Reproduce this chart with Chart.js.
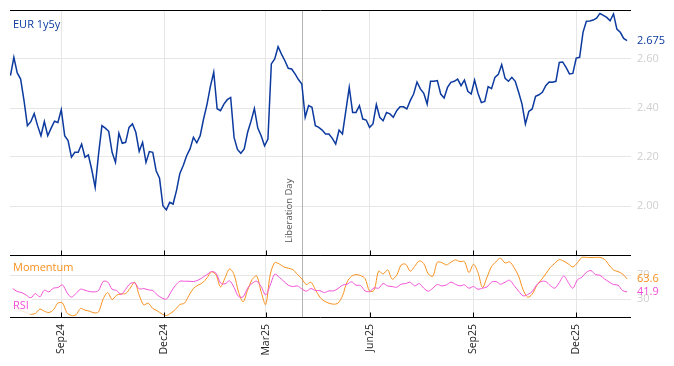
<!DOCTYPE html>
<html><head><meta charset="utf-8">
<script src="https://cdn.jsdelivr.net/npm/chart.js@4.4.1/dist/chart.umd.min.js"></script>
<style>
html,body{margin:0;padding:0;background:#fff;}
#wrap{position:relative;width:674px;height:366px;overflow:hidden;}
#wrap canvas{position:absolute;left:0;top:0;}
</style></head><body>
<div id="wrap"><canvas id="cTop" width="674" height="366"></canvas><canvas id="cBot" width="674" height="366"></canvas></div>
<script>
// ---------------- data ----------------
const eurStart = '2024-07-18';
const eurStepDays = 3;
const eur1y5y = [
2.532,2.607,2.543,2.518,2.430,2.328,2.344,2.377,2.328,2.287,
2.345,2.287,2.318,2.346,2.341,2.393,2.287,2.267,2.199,2.219,
2.219,2.253,2.199,2.208,2.148,2.076,2.212,2.328,2.318,2.305,
2.219,2.178,2.297,2.256,2.260,2.321,2.335,2.301,2.223,2.260,
2.178,2.222,2.219,2.144,2.113,2.001,1.984,2.015,2.008,2.063,
2.133,2.165,2.205,2.233,2.280,2.258,2.287,2.355,2.414,2.487,
2.546,2.397,2.389,2.416,2.434,2.443,2.280,2.231,2.215,2.233,
2.301,2.346,2.398,2.318,2.287,2.246,2.273,2.580,2.600,2.650,
2.620,2.593,2.562,2.559,2.539,2.516,2.498,2.362,2.410,2.403,
2.328,2.321,2.310,2.294,2.294,2.276,2.253,2.310,2.294,2.389,
2.484,2.382,2.382,2.410,2.355,2.351,2.321,2.335,2.414,2.362,
2.348,2.382,2.376,2.362,2.389,2.405,2.405,2.396,2.430,2.457,
2.506,2.478,2.460,2.416,2.509,2.509,2.512,2.457,2.441,2.484,
2.505,2.509,2.518,2.491,2.514,2.468,2.457,2.514,2.460,2.422,
2.427,2.487,2.479,2.525,2.537,2.577,2.521,2.509,2.525,2.509,
2.464,2.416,2.335,2.386,2.396,2.448,2.454,2.464,2.491,2.506,
2.505,2.509,2.586,2.588,2.566,2.539,2.541,2.604,2.607,2.709,
2.754,2.755,2.759,2.767,2.786,2.778,2.770,2.756,2.784,2.722,
2.709,2.684,2.675
];
const indStart = '2024-07-20';
const indStepDays = 4;
const momentum = [
20.3,13.6,10.3,7.5,4.7,5.8,13.1,9.7,7.5,11.9,
23.1,23.6,6.9,2.5,3.6,14.2,11.4,9.7,6.9,8.6,
29.7,40.8,29.2,36.4,38.6,39.2,48.1,58.1,36.4,20.3,
23.1,14.2,10.3,5.3,2.5,6.4,12.5,20.8,23.1,35.8,
47.5,53.1,56.9,65.3,75.3,70.3,50.3,65.3,80.3,70.8,
41.4,25.3,44.7,62.5,68.6,41.9,20.8,70.3,90.8,88.6,
83.6,81.4,79.2,71.4,63.6,54.2,58.1,45.8,33.0,
26.4,23.1,21.4,23.1,35.3,58.1,68.1,70.8,69.2,64.2,
43.1,44.7,76.4,71.9,78.6,63.1,69.7,86.9,88.1,76.4,
84.7,93.6,89.2,71.9,68.1,91.4,90.8,86.9,91.4,95.3,
92.5,92.5,74.2,88.1,74.2,49.2,66.4,84.2,92.5,98.1,
90.3,91.9,82.5,68.1,45.3,33.1,38.1,52.5,61.9,71.9,
82.5,89.7,95.8,93.1,88.6,83.6,90.3,99.5,99.5,99.2,
99.5,99.5,96.4,86.9,78.6,75.8,71.9,63.6
];
const rsi = [
47.5,42.5,40.8,36.4,31.9,39.2,33.6,44.7,41.9,48.1,
49.2,53.6,40.8,33.1,39.2,46.4,44.7,42.5,41.9,44.2,
59.2,58.6,46.4,44.2,37.5,46.4,55.8,56.9,46.9,47.5,
45.3,44.2,36.9,31.9,29.7,41.4,52.5,59.7,59.7,59.7,
59.2,61.4,65.8,70.8,75.8,73.1,56.9,55.3,60.3,49.2,
34.2,33.6,48.1,56.4,59.7,50.8,36.9,53.1,71.4,66.4,
59.7,53.1,50.8,51.9,46.9,43.1,47.5,44.2,44.0,
40.8,43.6,43.6,47.5,53.1,54.7,58.6,53.1,52.5,43.6,
42.5,48.6,48.1,55.8,51.9,50.8,49.7,54.7,55.8,58.1,
51.9,55.8,48.1,43.1,48.1,54.2,51.9,53.6,58.1,54.7,
51.9,53.6,48.1,50.8,46.4,48.1,50.3,58.1,59.2,54.7,
58.1,61.4,52.5,43.1,35.3,37.5,42.5,53.6,59.2,59.2,
52.5,48.1,57.5,68.6,57.5,48.1,61.9,66.4,74.7,77.5,
70.8,69.7,63.6,58.6,54.2,53.1,44.2,41.9
];
const tickDates = ['2024-09-01','2024-12-01','2025-03-01','2025-06-01','2025-09-01','2025-12-01'];
const tickLabels = ['Sep24','Dec24','Mar25','Jun25','Sep25','Dec25'];
const yTicksTop = [2.0, 2.2, 2.4, 2.6];
const yTicksBottom = [30, 70];
const eventDate = '2025-04-02';
const eventLabel = 'Liberation Day';
const xRange = ['2024-07-17T14:00:00Z', '2026-01-18T12:00:00Z'];

// ---------------- helpers ----------------
const DAY = 86400000;
const px = d => Date.parse(d.length > 10 ? d : d + 'T00:00:00Z');
const series = (start, step, vals) => vals.map((v, i) => ({x: px(start) + i * step * DAY, y: v}));
const BLUE = '#0c3a9f', ORANGE = '#f8901c', MAGENTA = '#f24fd6';
const GRID = '#e6e6e6', TICKGRAY = '#cfcfcf';
const FONT = "'Open Sans', sans-serif";
Chart.defaults.font.family = FONT;

const noPad = s => { s.paddingTop = 0; s.paddingBottom = 0; s.paddingLeft = 0; s.paddingRight = 0; };

function xScaleBase(extra) {
  return Object.assign({
    type: 'linear', min: px(xRange[0]), max: px(xRange[1]),
    afterBuildTicks: s => { s.ticks = tickDates.map(d => ({value: px(d)})); },
    grid: {color: GRID, drawTicks: false},
    border: {display: false}
  }, extra);
}

function frameAndTicks(chart) {
  const {ctx, chartArea: ca, scales: {x}} = chart;
  ctx.save();
  ctx.strokeStyle = '#000'; ctx.lineWidth = 1;
  ctx.beginPath();
  const t = Math.round(ca.top) + 0.5, b = Math.round(ca.bottom) + 0.5;
  ctx.moveTo(ca.left, t); ctx.lineTo(ca.right, t);
  ctx.moveTo(ca.left, b); ctx.lineTo(ca.right, b);
  ctx.stroke();
  ctx.beginPath();
  tickDates.forEach(d => {
    const tx = Math.round(x.getPixelForValue(px(d))) + 0.5;
    ctx.moveTo(tx, b - 5); ctx.lineTo(tx, b);
  });
  ctx.stroke();
  ctx.restore();
}
function eventLine(chart) {
  const {ctx, chartArea: ca, scales: {x}} = chart;
  const lx = Math.round(x.getPixelForValue(px(eventDate))) + 0.5;
  ctx.save(); ctx.strokeStyle = '#b4b4b4'; ctx.lineWidth = 1;
  ctx.beginPath(); ctx.moveTo(lx, ca.top); ctx.lineTo(lx, ca.bottom); ctx.stroke();
  ctx.restore();
  return lx;
}
function label(ctx, text, x, y, color, size, bg) {
  ctx.save();
  ctx.font = size + 'px ' + FONT;
  ctx.textBaseline = 'middle'; ctx.textAlign = 'left';
  if (bg) { ctx.fillStyle = 'rgba(255,255,255,0.8)'; const w = ctx.measureText(text).width; ctx.fillRect(x - 3, y - 8, w + 6, 16); }
  ctx.fillStyle = color; ctx.fillText(text, x, y);
  ctx.restore();
}

// ---------------- top panel ----------------
const eurData = series(eurStart, eurStepDays, eur1y5y);
new Chart(document.getElementById('cTop'), {
  type: 'line',
  data: {datasets: [{data: eurData, borderColor: BLUE, borderWidth: 1.5, pointRadius: 0, tension: 0, fill: false}]},
  options: {
    responsive: false, animation: false, events: [],
    layout: {padding: {left: 10, top: 10, right: 0, bottom: 111}},
    plugins: {legend: {display: false}, tooltip: {enabled: false}},
    scales: {
      x: xScaleBase({ticks: {display: false}, afterFit: s => { s.height = 0; noPad(s); }}),
      y: {
        position: 'right', min: 1.8, max: 2.8,
        afterBuildTicks: s => { s.ticks = yTicksTop.map(v => ({value: v})); },
        ticks: {color: TICKGRAY, font: {size: 11}, padding: 6, callback: v => v.toFixed(2)},
        grid: {color: GRID, drawTicks: false}, border: {display: false},
        afterFit: s => { s.width = 43; noPad(s); }
      }
    }
  },
  plugins: [{
    id: 'topDecor',
    beforeDatasetsDraw(chart) {
      const lx = eventLine(chart);
      const {ctx, chartArea: ca} = chart;
      ctx.save();
      ctx.translate(lx - 13, ca.bottom - 12);
      ctx.rotate(-Math.PI / 2);
      ctx.font = '9.5px ' + FONT; ctx.fillStyle = '#555'; ctx.textAlign = 'left'; ctx.textBaseline = 'middle';
      ctx.fillText(eventLabel, 0, 0);
      ctx.restore();
    },
    afterDatasetsDraw(chart) {
      frameAndTicks(chart);
      const {ctx, chartArea: ca, scales: {y}} = chart;
      label(ctx, 'EUR 1y5y', 13, 25, BLUE, 11, false);
      const last = eur1y5y[eur1y5y.length - 1];
      label(ctx, last.toFixed(3), ca.right + 6, y.getPixelForValue(last), BLUE, 11, false);
    }
  }]
});

// ---------------- bottom panel ----------------
new Chart(document.getElementById('cBot'), {
  type: 'line',
  data: {datasets: [
    {data: series(indStart, indStepDays, rsi), borderColor: MAGENTA, borderWidth: 1, pointRadius: 0, tension: 0.3, fill: false},
    {data: series(indStart, indStepDays, momentum), borderColor: ORANGE, borderWidth: 1, pointRadius: 0, tension: 0.3, fill: false}
  ]},
  options: {
    responsive: false, animation: false, events: [],
    layout: {padding: {left: 10, top: 255, right: 0, bottom: 0}},
    plugins: {legend: {display: false}, tooltip: {enabled: false}},
    scales: {
      x: xScaleBase({
        ticks: {display: true, autoSkip: false, minRotation: 90, maxRotation: 90, padding: 7,
                color: '#222', font: {size: 10.5}, callback: (v, i) => tickLabels[i]},
        afterFit: s => { s.height = 49; noPad(s); }
      }),
      y: {
        position: 'right', min: 0, max: 103.5,
        afterBuildTicks: s => { s.ticks = yTicksBottom.map(v => ({value: v})); },
        ticks: {color: TICKGRAY, font: {size: 11}, padding: 6},
        grid: {color: GRID, drawTicks: false}, border: {display: false},
        afterFit: s => { s.width = 43; noPad(s); }
      }
    }
  },
  plugins: [{
    id: 'botDecor',
    beforeDatasetsDraw(chart) { eventLine(chart); },
    afterDatasetsDraw(chart) {
      frameAndTicks(chart);
      const {ctx, chartArea: ca, scales: {y}} = chart;
      label(ctx, 'Momentum', 13, 268, ORANGE, 11, false);
      label(ctx, 'RSI', 13, 306, MAGENTA, 11, true);
      const m = momentum[momentum.length - 1], r = rsi[rsi.length - 1];
      label(ctx, m.toFixed(1), ca.right + 6, y.getPixelForValue(m), ORANGE, 11, false);
      label(ctx, r.toFixed(1), ca.right + 6, y.getPixelForValue(r), MAGENTA, 11, false);
    }
  }]
});
</script>
</body></html>
